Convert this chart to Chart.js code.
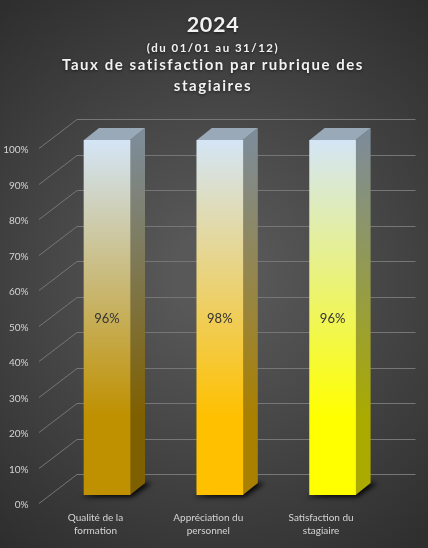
<!DOCTYPE html>
<html>
<head>
<meta charset="utf-8">
<style>
  html, body { margin: 0; padding: 0; background: #3a3a3a; }
  canvas { display: block; }
</style>
<script src="https://cdn.jsdelivr.net/npm/chart.js@4"></script>
</head>
<body>
<canvas id="satisfactionChart" width="428" height="548"></canvas>
<script>
const categories = [['Qualité de la', 'formation'], ['Appréciation du', 'personnel'], ['Satisfaction du', 'stagiaire']];
// bars are 100% stacked so they all fill the axis, the rate only shows as a label
const barHeights = [100, 100, 100];
const rates = [96, 98, 96];
const baseColors = ['#bf9000', '#ffc000', '#ffff00'];
const sideColors = ['#7f6000', '#aa8000', '#aaaa00'];
const titleYear = '2024';
const titlePeriod = '(du 01/01 au 31/12)';
const titleLines = ['Taux de satisfaction par rubrique des', 'stagiaires'];

const TOP_COLOR = '#d4e5f6';
const SIDE_TOP_COLOR = '#7e8c98';
const DEPTH_X = 15, DEPTH_Y = 12;   // bar depth
const WALL_X = 38, WALL_UP = 21, WALL_DOWN = 8;   // left wall of the 3d box

function barGradient(ctx, area, color, top) {
  const g = ctx.createLinearGradient(0, area.bottom, 0, area.top);
  g.addColorStop(0, color);
  g.addColorStop(0.22, color);
  g.addColorStop(1, top);
  return g;
}

const background = {
  id: 'background',
  beforeDraw(chart) {
    const { ctx, width, height } = chart;
    const g = ctx.createRadialGradient(width / 2, height / 2, 40, width / 2, height / 2, 370);
    g.addColorStop(0, '#585858');
    g.addColorStop(1, '#2a2a2a');
    ctx.save();
    ctx.fillStyle = g;
    ctx.fillRect(0, 0, width, height);
    ctx.restore();
  }
};

const titles = {
  id: 'titles',
  afterDraw(chart) {
    const { ctx } = chart;
    const cx = 213;
    ctx.save();
    ctx.textAlign = 'center';
    ctx.textBaseline = 'alphabetic';
    ctx.fillStyle = '#f2f2f2';
    ctx.shadowColor = 'rgba(0,0,0,0.6)';
    ctx.shadowBlur = 3;
    ctx.shadowOffsetY = 1;
    ctx.font = 'bold 21.5px Lato';
    ctx.letterSpacing = '0.7px';
    ctx.fillText(titleYear, cx, 32);
    ctx.font = 'bold 11.5px Lato';
    ctx.letterSpacing = '1.5px';
    ctx.fillText(titlePeriod, cx, 51.5);
    ctx.font = 'bold 15px Lato';
    ctx.letterSpacing = '1.55px';
    ctx.fillText(titleLines[0], cx, 70);
    ctx.fillText(titleLines[1], cx, 91);
    ctx.restore();
  }
};

// walls and the gridlines, behind the bars
const walls = {
  id: 'walls',
  beforeDatasetsDraw(chart) {
    const { ctx, chartArea, scales } = chart;
    const right = 415.5, left = 39, back = left + WALL_X;
    ctx.save();
    ctx.strokeStyle = '#767676';
    ctx.lineWidth = 1;
    scales.y.ticks.forEach(t => {
      const y = Math.round(scales.y.getPixelForValue(t.value));
      ctx.beginPath();
      ctx.moveTo(left, y + WALL_DOWN + 0.5);
      ctx.lineTo(back, y - WALL_UP + 0.5);
      ctx.lineTo(right, y - WALL_UP + 0.5);
      ctx.stroke();
    });
    ctx.restore();

    // shadow under the bars
    const meta = chart.getDatasetMeta(0);
    meta.data.forEach(bar => {
      const l = bar.x - bar.width / 2, r = bar.x + bar.width / 2, b = chartArea.bottom;
      ctx.save();
      ctx.filter = 'blur(2.5px)';
      ctx.fillStyle = 'rgba(0,0,0,0.9)';
      ctx.beginPath();
      ctx.moveTo(l - 4, b + 2);
      ctx.lineTo(r + 2, b + 2);
      ctx.lineTo(r + DEPTH_X + 7, b - DEPTH_Y);
      ctx.lineTo(r, b - DEPTH_Y);
      ctx.closePath();
      ctx.fill();
      ctx.restore();
    });

    // side and top faces
    meta.data.forEach((bar, i) => {
      const l = bar.x - bar.width / 2, r = bar.x + bar.width / 2, t = bar.y, b = chartArea.bottom;
      ctx.save();
      ctx.fillStyle = barGradient(ctx, chartArea, sideColors[i], SIDE_TOP_COLOR);
      ctx.beginPath();
      ctx.moveTo(r, t);
      ctx.lineTo(r + DEPTH_X, t - DEPTH_Y);
      ctx.lineTo(r + DEPTH_X, b - DEPTH_Y);
      ctx.lineTo(r, b);
      ctx.closePath();
      ctx.fill();
      ctx.fillStyle = '#9aa9b8';
      ctx.beginPath();
      ctx.moveTo(l, t);
      ctx.lineTo(l + DEPTH_X, t - DEPTH_Y);
      ctx.lineTo(r + DEPTH_X, t - DEPTH_Y);
      ctx.lineTo(r, t);
      ctx.closePath();
      ctx.fill();
      ctx.restore();
    });
  }
};

const rateLabels = {
  id: 'rateLabels',
  afterDatasetsDraw(chart) {
    const { ctx, chartArea } = chart;
    ctx.save();
    ctx.font = '13px Lato';
    ctx.fillStyle = '#333333';
    ctx.textAlign = 'center';
    ctx.textBaseline = 'middle';
    chart.getDatasetMeta(0).data.forEach((bar, i) => {
      ctx.fillText(rates[i] + '%', bar.x, (bar.y + chartArea.bottom) / 2 + 1);
    });
    ctx.restore();
  }
};

new Chart(document.getElementById('satisfactionChart'), {
  type: 'bar',
  data: {
    labels: categories,
    datasets: [{
      data: barHeights,
      barThickness: 46,
      borderWidth: 0,
      backgroundColor: c => {
        if (!c.chart.chartArea) return baseColors[c.dataIndex];
        return barGradient(c.chart.ctx, c.chart.chartArea, baseColors[c.dataIndex], TOP_COLOR);
      }
    }]
  },
  options: {
    responsive: false,
    animation: false,
    devicePixelRatio: 1,
    layout: { padding: { top: 140, right: 39, bottom: 0, left: 0 } },
    plugins: { legend: { display: false }, tooltip: { enabled: false } },
    scales: {
      x: {
        afterFit: s => { s.height = 53; },
        grid: { display: false },
        border: { display: false },
        ticks: { color: '#d4d4d4', font: { family: 'Lato', size: 10, lineHeight: 1.3 }, padding: 8, maxRotation: 0, labelOffset: -11.5 }
      },
      y: {
        min: 0,
        max: 100,
        afterFit: s => { s.width = 50.6; },
        grid: { display: false },
        border: { display: false },
        ticks: {
          stepSize: 10,
          color: '#d4d4d4',
          font: { family: 'Lato', size: 10 },
          padding: 14,
          labelOffset: 10,
          callback: v => v + '%'
        }
      }
    }
  },
  plugins: [background, walls, rateLabels, titles]
});
</script>
</body>
</html>
